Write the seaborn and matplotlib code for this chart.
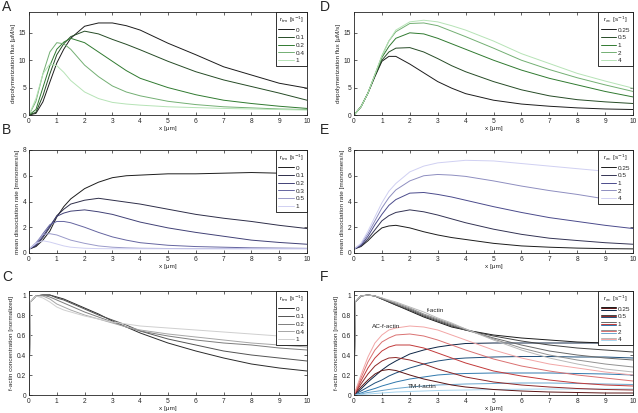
import matplotlib
matplotlib.use("Agg")
import matplotlib.pyplot as plt
from matplotlib.legend_handler import HandlerBase
from matplotlib.lines import Line2D
import pandas as pd
import seaborn as sns

# ---------------- data ----------------
X = [0, 0.25, 0.5, 0.75, 1, 1.25, 1.5, 2, 2.5, 3, 3.5, 4, 5, 6, 7, 8, 9, 10]
X_CONC = [0, 0.05, 0.25, 0.5, 0.75, 1, 1.25, 1.5, 2, 2.5, 3, 3.5, 4, 5, 6, 7, 8, 9, 10]

TM_RATES_A = ["0", "0.1", "0.2", "0.4", "1"]
FLUX_TM = [
    [0, 0.3, 2.4, 6, 9.5, 12, 14, 16.2, 16.8, 16.8, 16.3, 15.5, 13.1, 11, 8.8, 7.3, 5.8, 4.9],
    [0, 0.5, 3.5, 7.5, 11, 13, 14.3, 15.3, 14.8, 13.8, 12.9, 11.9, 9.8, 7.9, 6.4, 5.2, 4.0, 2.7],
    [0, 1.0, 5, 9, 12, 13.3, 14, 13.2, 11.5, 9.8, 8.1, 6.7, 5.0, 3.7, 2.7, 2.1, 1.6, 1.2],
    [0, 2.5, 7.5, 11.5, 13.2, 13, 12, 9.1, 7, 5.3, 4.2, 3.5, 2.5, 1.9, 1.5, 1.3, 1.1, 1.0],
    [0, 3, 7.5, 9.3, 9, 7.8, 6.3, 4.2, 3, 2.3, 2.0, 1.8, 1.5, 1.35, 1.2, 1.1, 1.0, 0.9],
]

AC_RATES = ["0.25", "0.5", "1", "2", "4"]
FLUX_AC = [
    [0, 1.5, 4, 7, 9.8, 10.7, 10.7, 9.3, 7.7, 6.1, 4.9, 3.9, 2.7, 2.0, 1.6, 1.3, 1.1, 1.0],
    [0, 1.5, 4, 7.2, 10, 11.5, 12.2, 12.3, 11.5, 10.3, 9.0, 7.9, 6.1, 4.6, 3.5, 2.8, 2.4, 2.1],
    [0, 1.5, 4, 7.3, 10.5, 12.5, 14, 15, 14.8, 14, 13, 12, 10, 8.2, 6.7, 5.5, 4.3, 3.3],
    [0, 1.5, 4, 7.4, 10.8, 13.5, 15.2, 16.7, 16.8, 16.3, 15.3, 14.3, 12.2, 10, 8.3, 6.8, 5.5, 4.3],
    [0, 1.5, 4, 7.4, 10.8, 13.5, 15.5, 17, 17.3, 17, 16.3, 15.5, 13.5, 11.2, 9.4, 7.6, 6.2, 4.9],
]

TM_RATES_B = ["0", "0.1", "0.2", "0.3", "0.5", "1"]
DISS_TM = [
    [0.3, 0.5, 1.0, 1.7, 2.8, 3.6, 4.2, 5.0, 5.5, 5.85, 6.0, 6.05, 6.15, 6.15, 6.2, 6.25, 6.2, 6.2],
    [0.3, 0.55, 1.2, 2.0, 2.9, 3.4, 3.8, 4.1, 4.25, 4.1, 3.95, 3.8, 3.4, 3.0, 2.7, 2.45, 2.15, 1.9],
    [0.3, 0.6, 1.3, 2.1, 2.85, 3.1, 3.25, 3.35, 3.2, 3.0, 2.7, 2.4, 1.95, 1.6, 1.3, 1.0, 0.82, 0.68],
    [0.3, 0.7, 1.5, 2.2, 2.45, 2.45, 2.35, 2.0, 1.6, 1.25, 1.0, 0.8, 0.6, 0.5, 0.45, 0.4, 0.38, 0.36],
    [0.3, 0.8, 1.45, 1.5, 1.4, 1.2, 1.0, 0.75, 0.55, 0.45, 0.4, 0.37, 0.35, 0.34, 0.34, 0.34, 0.34, 0.34],
    [0.3, 0.75, 0.95, 0.85, 0.7, 0.55, 0.45, 0.37, 0.34, 0.33, 0.33, 0.33, 0.33, 0.33, 0.33, 0.33, 0.33, 0.33],
]

DISS_AC = [
    [0.3, 0.5, 0.95, 1.5, 1.95, 2.1, 2.15, 1.95, 1.65, 1.4, 1.2, 1.05, 0.75, 0.55, 0.45, 0.38, 0.34, 0.32],
    [0.3, 0.55, 1.1, 1.8, 2.5, 2.9, 3.15, 3.35, 3.2, 2.95, 2.65, 2.35, 1.85, 1.45, 1.15, 0.97, 0.8, 0.68],
    [0.3, 0.6, 1.3, 2.2, 3.0, 3.7, 4.15, 4.65, 4.7, 4.55, 4.35, 4.1, 3.6, 3.15, 2.75, 2.45, 2.15, 1.9],
    [0.3, 0.7, 1.5, 2.5, 3.5, 4.3, 4.9, 5.6, 6.0, 6.1, 6.05, 5.95, 5.6, 5.2, 4.85, 4.55, 4.2, 3.9],
    [0.3, 0.75, 1.7, 2.8, 3.9, 4.8, 5.4, 6.3, 6.75, 7.0, 7.1, 7.2, 7.15, 6.95, 6.75, 6.55, 6.35, 6.2],
]

CONC_TM = [
    [0.05, 0.93, 0.99, 1.0, 1.0, 0.98, 0.96, 0.93, 0.87, 0.81, 0.74, 0.68, 0.62, 0.52, 0.44, 0.37, 0.31, 0.27, 0.24],
    [0.05, 0.93, 0.99, 1.0, 1.0, 0.97, 0.95, 0.92, 0.86, 0.8, 0.75, 0.7, 0.64, 0.56, 0.5, 0.44, 0.4, 0.37, 0.34],
    [0.05, 0.93, 0.99, 1.0, 0.98, 0.95, 0.92, 0.89, 0.83, 0.78, 0.73, 0.68, 0.64, 0.59, 0.55, 0.52, 0.5, 0.47, 0.45],
    [0.05, 0.93, 0.99, 0.99, 0.96, 0.91, 0.88, 0.85, 0.8, 0.76, 0.72, 0.68, 0.65, 0.61, 0.58, 0.55, 0.52, 0.5, 0.48],
    [0.05, 0.93, 0.99, 0.97, 0.93, 0.88, 0.85, 0.83, 0.79, 0.76, 0.73, 0.71, 0.69, 0.67, 0.65, 0.63, 0.61, 0.59, 0.57],
]

F_ACTIN = [
    [0.05, 0.93, 0.99, 1.0, 0.99, 0.96, 0.93, 0.9, 0.84, 0.78, 0.73, 0.68, 0.65, 0.6, 0.57, 0.55, 0.53, 0.52, 0.51],
    [0.05, 0.93, 0.99, 1.0, 0.99, 0.96, 0.93, 0.9, 0.85, 0.79, 0.74, 0.69, 0.65, 0.59, 0.54, 0.5, 0.47, 0.45, 0.43],
    [0.05, 0.93, 0.99, 1.0, 0.99, 0.96, 0.94, 0.91, 0.86, 0.8, 0.75, 0.7, 0.65, 0.57, 0.5, 0.44, 0.4, 0.37, 0.35],
    [0.05, 0.93, 0.99, 1.0, 0.99, 0.97, 0.94, 0.92, 0.87, 0.81, 0.76, 0.71, 0.66, 0.56, 0.47, 0.4, 0.35, 0.31, 0.28],
    [0.05, 0.93, 0.99, 1.0, 0.99, 0.97, 0.95, 0.93, 0.88, 0.83, 0.77, 0.72, 0.66, 0.55, 0.45, 0.37, 0.31, 0.26, 0.23],
]
AC_F_ACTIN = [
    [0, 0.08, 0.15, 0.21, 0.245, 0.255, 0.245, 0.2, 0.16, 0.13, 0.1, 0.08, 0.055, 0.04, 0.03, 0.025, 0.02, 0.02],
    [0, 0.11, 0.21, 0.29, 0.34, 0.37, 0.375, 0.35, 0.31, 0.26, 0.22, 0.18, 0.13, 0.1, 0.08, 0.065, 0.055, 0.05],
    [0, 0.14, 0.27, 0.37, 0.44, 0.48, 0.5, 0.5, 0.47, 0.42, 0.37, 0.32, 0.24, 0.19, 0.15, 0.12, 0.1, 0.09],
    [0, 0.17, 0.33, 0.45, 0.53, 0.57, 0.6, 0.61, 0.59, 0.55, 0.5, 0.45, 0.36, 0.29, 0.24, 0.2, 0.17, 0.14],
    [0, 0.2, 0.38, 0.52, 0.6, 0.65, 0.67, 0.69, 0.68, 0.65, 0.6, 0.55, 0.45, 0.37, 0.31, 0.27, 0.23, 0.2],
]
TM_F_ACTIN = [
    [0, 0.06, 0.13, 0.19, 0.25, 0.3, 0.34, 0.41, 0.45, 0.48, 0.5, 0.515, 0.52, 0.52, 0.52, 0.52, 0.52, 0.51],
    [0, 0.04, 0.08, 0.12, 0.15, 0.19, 0.22, 0.27, 0.31, 0.34, 0.36, 0.37, 0.38, 0.385, 0.385, 0.38, 0.38, 0.37],
    [0, 0.02, 0.045, 0.065, 0.09, 0.11, 0.13, 0.16, 0.18, 0.2, 0.21, 0.215, 0.22, 0.22, 0.22, 0.215, 0.21, 0.2],
    [0, 0.01, 0.025, 0.035, 0.045, 0.055, 0.065, 0.08, 0.09, 0.1, 0.105, 0.11, 0.115, 0.12, 0.12, 0.115, 0.11, 0.105],
    [0, 0.005, 0.01, 0.015, 0.02, 0.025, 0.03, 0.035, 0.04, 0.045, 0.048, 0.05, 0.055, 0.058, 0.06, 0.06, 0.06, 0.06],
]

# ---------------- style ----------------
sns.set_theme(style="ticks")
plt.rcParams["font.family"] = ["Liberation Sans", "DejaVu Sans"]
plt.rcParams["axes.linewidth"] = 0.6

FS_TICK = 4.8
FS_LAB = 4.6
LW = 0.7

GREENS = sns.blend_palette(["#1c1c1c", "#2f7a2f", "#b6e3b6"], 5)
PURPLES_B = sns.blend_palette(["#1c1c1c", "#4a4a8c", "#d0d0f2"], 6)
PURPLES_E = sns.blend_palette(["#1c1c1c", "#4a4a8c", "#d0d0f2"], 5)
GREYS = sns.blend_palette(["#2a2a2a", "#cfcfcf"], 5)
F_GREYS = sns.blend_palette(["#1a1a1a", "#b8b8b8"], 5)
F_REDS = sns.blend_palette(["#5c1414", "#c23a3a", "#f2a6a6"], 5)
F_BLUES = sns.blend_palette(["#0c2444", "#2f78ad", "#a6d4ee"], 5)

TM_TITLE = r"r$_{\rm tm}$ [s$^{-1}$]"
AC_TITLE = r"r$_{\rm ac}$ [s$^{-1}$]"


def long_df(x, curves, labels):
    rows = []
    for ys, lab in zip(curves, labels):
        for xi, yi in zip(x, ys):
            rows.append((xi, yi, lab))
    return pd.DataFrame(rows, columns=["x", "y", "rate"])


def draw_curves(ax, x, curves, labels, palette):
    df = long_df(x, curves, labels)
    sns.lineplot(data=df, x="x", y="y", hue="rate", hue_order=labels,
                 palette=palette, estimator=None, sort=False, legend=False,
                 lw=LW, ax=ax)


def style_axes(ax, ylabel, ylim, yticks):
    ax.set_xlim(0, 10)
    ax.set_xticks(range(11))
    ax.set_ylim(*ylim)
    ax.set_yticks(yticks)
    ax.tick_params(direction="in", top=True, right=True, length=2.5, width=0.5,
                   labelsize=FS_TICK, pad=2)
    ax.set_xlabel("x [μm]", fontsize=FS_LAB, labelpad=1)
    ax.set_ylabel(ylabel, fontsize=FS_LAB, labelpad=2)
    for sp in ax.spines.values():
        sp.set_visible(True)
        sp.set_linewidth(0.6)
        sp.set_color("#222222")


def add_legend(ax, labels, palette, title, handler_map=None, handles=None):
    if handles is None:
        handles = [Line2D([], [], color=c, lw=LW) for c in palette]
    leg = ax.legend(handles, labels, title=title, loc="upper right",
                    borderaxespad=0, fontsize=FS_LAB, title_fontsize=FS_LAB,
                    handlelength=2.4, handletextpad=0.3, labelspacing=0.35,
                    borderpad=0.4, fancybox=False, framealpha=1,
                    handler_map=handler_map)
    leg.get_frame().set_edgecolor("#111111")
    leg.get_frame().set_linewidth(0.6)
    return leg


class StackedLines(HandlerBase):
    # draws the grey / red / blue lines of one rate on top of each other
    def create_artists(self, legend, orig_handle, xdescent, ydescent,
                       width, height, fontsize, trans):
        arts = []
        n = len(orig_handle)
        for i, h in enumerate(orig_handle):
            y = height / 2 - ydescent + (n / 2 - i - 0.5) * height * 0.28
            ln = Line2D([-xdescent, width - xdescent], [y, y],
                        color=h.get_color(), lw=h.get_linewidth(), transform=trans)
            arts.append(ln)
        return arts


# ---------------- figure ----------------
fig = plt.figure(figsize=(6.38, 4.13), dpi=100)
W, H = 638, 413


def add_ax(left, top, right, bottom):
    return fig.add_axes([left / W, 1 - bottom / H, (right - left) / W, (bottom - top) / H])


axA = add_ax(29, 12, 307, 115)
axD = add_ax(354, 12, 633, 115)
axB = add_ax(29, 150, 307, 253)
axE = add_ax(354, 150, 633, 253)
axC = add_ax(29, 291, 307, 395)
axF = add_ax(354, 291, 633, 395)

# A
draw_curves(axA, X, FLUX_TM, TM_RATES_A, GREENS)
style_axes(axA, "depolymerization flux [μM/s]", (0, 18.8), [0, 5, 10, 15])
add_legend(axA, TM_RATES_A, GREENS, TM_TITLE)

# D
draw_curves(axD, X, FLUX_AC, AC_RATES, GREENS)
style_axes(axD, "depolymerization flux [μM/s]", (0, 18.8), [0, 5, 10, 15])
add_legend(axD, AC_RATES, GREENS, AC_TITLE)

# B
draw_curves(axB, X, DISS_TM, TM_RATES_B, PURPLES_B)
style_axes(axB, "mean dissociation rate [monomers/s]", (0, 8), [0, 2, 4, 6, 8])
add_legend(axB, TM_RATES_B, PURPLES_B, TM_TITLE)

# E
draw_curves(axE, X, DISS_AC, AC_RATES, PURPLES_E)
style_axes(axE, "mean dissociation rate [monomers/s]", (0, 8), [0, 2, 4, 6, 8])
add_legend(axE, AC_RATES, PURPLES_E, AC_TITLE)

# C
draw_curves(axC, X_CONC, CONC_TM, TM_RATES_A, GREYS)
style_axes(axC, "f-actin concentration [normalized]", (0, 1.04), [0, 0.2, 0.4, 0.6, 0.8, 1])
axC.set_yticklabels(["0", "0.2", "0.4", "0.6", "0.8", "1"])
add_legend(axC, TM_RATES_A, GREYS, TM_TITLE)

# F
draw_curves(axF, X, TM_F_ACTIN, AC_RATES, F_BLUES)
draw_curves(axF, X, AC_F_ACTIN, AC_RATES, F_REDS)
draw_curves(axF, X_CONC, F_ACTIN, AC_RATES, F_GREYS)
style_axes(axF, "f-actin concentration [normalized]", (0, 1.04), [0, 0.2, 0.4, 0.6, 0.8, 1])
axF.set_yticklabels(["0", "0.2", "0.4", "0.6", "0.8", "1"])
f_handles = [
    (Line2D([], [], color=g, lw=LW), Line2D([], [], color=r, lw=LW), Line2D([], [], color=b, lw=LW))
    for g, r, b in zip(F_GREYS, F_REDS, F_BLUES)
]
add_legend(axF, AC_RATES, None, AC_TITLE, handler_map={tuple: StackedLines()}, handles=f_handles)
axF.text(2.62, 0.845, "f-actin", fontsize=FS_LAB, va="center")
axF.text(0.66, 0.685, "AC-f-actin", fontsize=FS_LAB, va="center")
axF.text(1.92, 0.085, "TM-f-actin", fontsize=FS_LAB, va="center")

# panel letters
for letter, px, py in [("A", 2, 0), ("B", 2, 123), ("C", 2, 270),
                       ("D", 320, 0), ("E", 320, 123), ("F", 320, 270)]:
    fig.text(px / W, 1 - py / H, letter, fontsize=10, va="top", ha="left")

fig.savefig("out.png", dpi=100)
